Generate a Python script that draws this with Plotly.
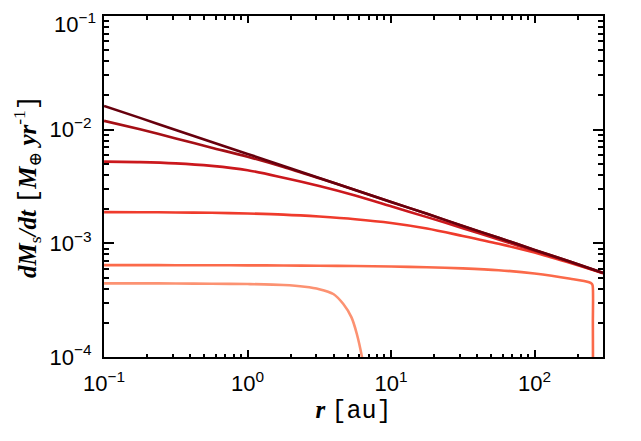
import plotly.graph_objects as go
import numpy as np

# radius grid [au], quarter-dex steps, and pebble flux [M_earth/yr]
r_grid = [0.1, 0.178, 0.316, 0.562, 1, 1.78, 3.16, 5.62, 10, 17.8, 31.6, 56.2, 100, 178, 300]

flux_1 = [1.62e-2, 1.27e-2, 9.95e-3, 7.80e-3, 6.12e-3, 4.80e-3, 3.76e-3, 2.95e-3,
          2.31e-3, 1.82e-3, 1.42e-3, 1.12e-3, 8.75e-4, 6.87e-4, 5.50e-4]
flux_2 = [1.197e-2, 1.007e-2, 8.38e-3, 6.95e-3, 5.78e-3, 4.69e-3, 3.73e-3, 2.95e-3,
          2.31e-3, 1.82e-3, 1.42e-3, 1.12e-3, 8.75e-4, 6.87e-4, 5.50e-4]
flux_3 = [5.23e-3, 5.18e-3, 5.05e-3, 4.80e-3, 4.40e-3, 3.78e-3, 3.20e-3, 2.64e-3,
          2.12e-3, 1.70e-3, 1.36e-3, 1.08e-3, 8.60e-4, 6.80e-4, 5.45e-4]
flux_4 = [1.88e-3, 1.878e-3, 1.87e-3, 1.855e-3, 1.83e-3, 1.79e-3, 1.72e-3, 1.63e-3,
          1.51e-3, 1.35e-3, 1.16e-3, 9.9e-4, 8.3e-4, 6.7e-4, 5.47e-4]

# the two outer-truncated curves have their own radii
r_5 = [0.1, 0.178, 0.316, 0.562, 1, 1.78, 3.16, 5.62, 10, 17.8, 31.6, 56.2, 100, 178, 240, 250, 254, 255, 255.5]
flux_5 = [6.43e-4, 6.43e-4, 6.42e-4, 6.42e-4, 6.40e-4, 6.38e-4, 6.35e-4, 6.31e-4, 6.25e-4,
          6.16e-4, 6.02e-4, 5.80e-4, 5.42e-4, 4.88e-4, 4.55e-4, 4.42e-4, 4.25e-4, 2.0e-4, 9.0e-5]

r_6 = [0.1, 0.178, 0.316, 0.562, 1, 1.78, 2.5, 3.16, 3.96, 4.65, 5.3, 5.77, 6.27, 6.4]
flux_6 = [4.44e-4, 4.44e-4, 4.43e-4, 4.41e-4, 4.38e-4, 4.30e-4, 4.15e-4, 3.95e-4,
          3.58e-4, 2.92e-4, 2.23e-4, 1.6e-4, 1.0e-4, 8.5e-5]

radii = [r_6, r_5, r_grid, r_grid, r_grid, r_grid]
fluxes = [flux_6, flux_5, flux_4, flux_3, flux_2, flux_1]
colors = ["#fc9272", "#fb6a4a", "#ef3b2c", "#cb181d", "#a50f15", "#67000d"]

x_ticks = [0.1, 1, 10, 100]
x_labels = ["10<sup>−1</sup>", "10<sup>0</sup>", "10<sup>1</sup>", "10<sup>2</sup>"]
y_ticks = [1e-4, 1e-3, 1e-2, 1e-1]
y_labels = ["10<sup>−4</sup>", "10<sup>−3</sup>", "10<sup>−2</sup>", "10<sup>−1</sup>"]

fig = go.Figure()

for r, f, c in zip(radii, fluxes, colors):
    fig.add_trace(go.Scatter(x=r, y=f, mode="lines",
                             line=dict(color=c, width=2.6, shape="spline", smoothing=0.8),
                             showlegend=False))

# minor ticks at 2..9 of every decade
minor_x = [m * 10.0 ** e for e in range(-1, 3) for m in range(2, 10)]
minor_y = [m * 10.0 ** e for e in range(-4, -1) for m in range(2, 10)]

tick_font = dict(family="Liberation Sans, Arial", size=22, color="black")
title_font = dict(family="Liberation Serif, DejaVu Serif", size=25, color="black")
mono = '<span style="font-family:Liberation Mono">'

fig.update_xaxes(
    type="log", range=[-1.0005, np.log10(300)], tickvals=x_ticks, ticktext=x_labels,
    showline=True, linecolor="black", linewidth=2, mirror="ticks",
    ticks="inside", ticklen=7, tickwidth=1.5, tickcolor="black",
    minor=dict(tickvals=minor_x, ticks="inside", ticklen=3.5, tickwidth=1.5, tickcolor="black"),
    showgrid=False, zeroline=False, tickfont=tick_font, ticklabelstandoff=6,
    title=dict(text="<b><i>r</i></b> " + mono + "[au]</span>", font=title_font, standoff=4),
)
# top label would run past the div, so it is drawn as an annotation nudged down
fig.update_yaxes(
    type="log", range=[-4.0005, -0.9995], tickvals=y_ticks, ticktext=y_labels[:-1] + [""],
    showline=True, linecolor="black", linewidth=2, mirror="ticks",
    ticks="inside", ticklen=10, tickwidth=1.5, tickcolor="black",
    minor=dict(tickvals=minor_y, ticks="inside", ticklen=5, tickwidth=1.5, tickcolor="black"),
    showgrid=False, zeroline=False, tickfont=tick_font, ticklabelstandoff=6,
    title=dict(text="<b><i>dM</i></b><sub>s</sub><b><i>/dt</i></b> " + mono + "[</span>"
                    "<b><i>M</i></b><sub>⊕</sub> <b><i>yr</i></b><sup>-1</sup>" + mono + "]</span>",
               font=title_font, standoff=6),
)
fig.add_annotation(x=0, xref="paper", y=np.log10(y_ticks[-1]), yref="y",
                   text=y_labels[-1], showarrow=False, font=tick_font,
                   xanchor="right", yanchor="middle", xshift=-6, yshift=-7)

# page body adds 8px around the figure, so the figure is 16px smaller than the window
fig.update_layout(
    width=625, height=425,
    margin=dict(l=96, r=30, t=6, b=76),
    plot_bgcolor="white", paper_bgcolor="white",
)

fig.write_html("out.html")
